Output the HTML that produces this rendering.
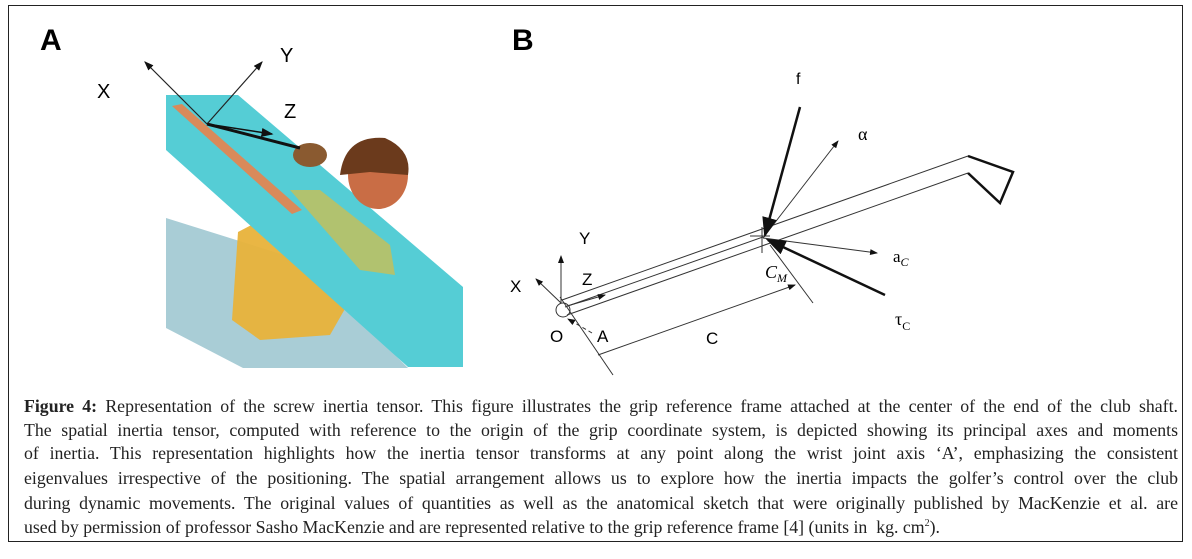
<!DOCTYPE html>
<html><head><meta charset="utf-8"><style>
body{margin:0;background:#fff;}
#w{position:relative;width:1192px;height:559px;overflow:hidden;background:#fff;}
#box{position:absolute;left:8px;top:5px;width:1173px;height:535px;border:1.5px solid #222;}
.cl{position:absolute;left:24px;width:1154px;font:17.8px "Liberation Serif",serif;color:#222;text-align:justify;text-align-last:justify;white-space:nowrap;line-height:20px;}
.cl.l{text-align-last:left;}
.cl sup{font-size:10px;vertical-align:super;line-height:0;}
svg text{font-family:"Liberation Sans",sans-serif;}
</style></head><body><div id="w">
<div id="box"></div>
<svg width="1192" height="400" style="position:absolute;left:0;top:0">
<defs><marker id="ah" markerWidth="8" markerHeight="6" refX="7" refY="3" orient="auto"><path d="M0,0L8,3L0,6z" fill="#111"/></marker></defs>
<text x="40" y="50" font-size="30" font-weight="bold">A</text>
<polygon points="166,218 166,328 243,368 408,368 300,260" fill="#a9cdd6"/>
<path d="M238,232 L290,205 L335,240 L350,300 L330,335 L260,340 L232,320 Z" fill="#e8b23a" opacity="0.95"/>
<polygon points="166,95 238,95 463,287 463,367 408,367 166,150" fill="#55cdd5"/>
<path d="M290,190 L320,190 L390,245 L395,275 L360,270 Z" fill="#c8bf55" opacity="0.8"/>
<ellipse cx="378" cy="175" rx="30" ry="34" fill="#c96d45"/>
<path d="M340,175 Q345,135 385,138 Q412,150 408,175 L370,172 Z" fill="#6b3a1c"/>
<path d="M172,106 L182,104 L302,210 L292,214 Z" fill="#d98a5a"/>
<ellipse cx="310" cy="155" rx="17" ry="12" fill="#8a5a30"/>
<line x1="207" y1="124" x2="300" y2="148" stroke="#111" stroke-width="3"/>
<line x1="207" y1="124" x2="145" y2="62" stroke="#222" stroke-width="1.2" marker-end="url(#ah)"/>
<line x1="207" y1="124" x2="262" y2="62" stroke="#222" stroke-width="1.2" marker-end="url(#ah)"/>
<line x1="207" y1="124" x2="272" y2="134" stroke="#111" stroke-width="1.5" marker-end="url(#ah)"/>
<text x="97" y="98" font-size="20">X</text>
<text x="280" y="62" font-size="20">Y</text>
<text x="284" y="118" font-size="20">Z</text>
<text x="512" y="50" font-size="30" font-weight="bold">B</text>
<g stroke="#333" stroke-width="1" fill="none">
<line x1="562" y1="300" x2="968" y2="156"/>
<line x1="567" y1="315" x2="968" y2="173"/>
<line x1="565" y1="307" x2="763" y2="237"/>
<polyline points="968,156 1013,172 1000,203 968,173" stroke="#111" stroke-width="2.5"/>
<line x1="762" y1="227" x2="762" y2="253"/>
<line x1="750" y1="236" x2="770" y2="236"/>
<line x1="770" y1="245" x2="813" y2="303"/>
<line x1="560" y1="297" x2="613" y2="375"/>
<line x1="598" y1="355" x2="795" y2="285" marker-end="url(#ah)"/>
<circle cx="563" cy="310" r="7"/>
<line x1="561" y1="303" x2="561" y2="256" marker-end="url(#ah)"/>
<line x1="561" y1="303" x2="536" y2="279" marker-end="url(#ah)"/>
<line x1="567" y1="306" x2="605" y2="295" marker-end="url(#ah)"/>
<line x1="592" y1="333" x2="568" y2="319" stroke-dasharray="4,3" marker-end="url(#ah)"/>
<line x1="763" y1="238" x2="838" y2="141" marker-end="url(#ah)"/>
<line x1="763" y1="238" x2="877" y2="253" marker-end="url(#ah)"/>
<line x1="800" y1="107" x2="765" y2="235" stroke="#111" stroke-width="2.5" marker-end="url(#ah)"/>
<line x1="885" y1="295" x2="768" y2="240" stroke="#111" stroke-width="2.5" marker-end="url(#ah)"/>
</g>
<text x="579" y="244" font-size="17">Y</text>
<text x="582" y="285" font-size="17">Z</text>
<text x="510" y="292" font-size="17">X</text>
<text x="550" y="342" font-size="17">O</text>
<text x="597" y="342" font-size="17">A</text>
<text x="706" y="344" font-size="17">C</text>
<text x="765" y="278" font-size="18" font-style="italic" style="font-family:'Liberation Serif',serif">C<tspan font-size="12" dy="4">M</tspan></text>
<text x="796" y="84" font-size="16">f</text>
<text x="858" y="140" font-size="18" style="font-family:'Liberation Serif',serif">α</text>
<text x="893" y="262" font-size="17" style="font-family:'Liberation Serif',serif">a<tspan font-size="12" dy="4" font-style="italic">C</tspan></text>
<text x="895" y="325" font-size="18" style="font-family:'Liberation Serif',serif">τ<tspan font-size="12" dy="5">C</tspan></text>
</svg>
<div class="cl" style="top:396px"><b>Figure 4:</b> Representation of the screw inertia tensor. This figure illustrates the grip reference frame attached at the center of the end of the club shaft.</div>
<div class="cl" style="top:420px">The spatial inertia tensor, computed with reference to the origin of the grip coordinate system, is depicted showing its principal axes and moments</div>
<div class="cl" style="top:443px">of inertia. This representation highlights how the inertia tensor transforms at any point along the wrist joint axis ‘A’, emphasizing the consistent</div>
<div class="cl" style="top:468px">eigenvalues irrespective of the positioning. The spatial arrangement allows us to explore how the inertia impacts the golfer’s control over the club</div>
<div class="cl" style="top:493px">during dynamic movements. The original values of quantities as well as the anatomical sketch that were originally published by MacKenzie et al. are</div>
<div class="cl l" style="top:517px">used by permission of professor Sasho MacKenzie and are represented relative to the grip reference frame [4] (units in&nbsp; kg. cm<sup>2</sup>).</div>
</div></body></html>
